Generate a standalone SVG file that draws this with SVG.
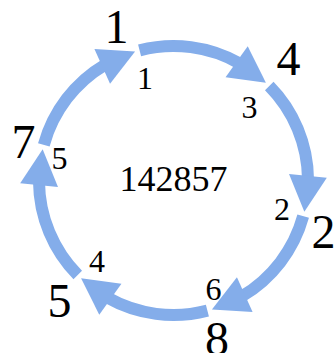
<svg xmlns="http://www.w3.org/2000/svg" width="334" height="353" viewBox="0 0 334 353">
<style>
.arc{fill:none;stroke:#84ADEA;stroke-width:12;stroke-linecap:butt}
.head{fill:#84ADEA;stroke:none}
text{font-family:"Liberation Serif","Times New Roman",serif;fill:#000;text-anchor:middle}
.big{font-size:48px}
.small{font-size:32px}
.center{font-size:36px}
</style>
<rect width="334" height="353" fill="#fff"/>
<defs>
<g id="seg">
<path class="arc" d="M 139.59 50.34 A 134.5 134.5 0 0 1 239.73 63.43"/>
<polygon class="head" points="225.57,77.18 247.73,46.32 265.91,82.77"/>
</g>
</defs>
<g id="connectors">
<use href="#seg" transform="rotate(0 173.5 180.5)"/>
<use href="#seg" transform="rotate(60 173.5 180.5)"/>
<use href="#seg" transform="rotate(120 173.5 180.5)"/>
<use href="#seg" transform="rotate(180 173.5 180.5)"/>
<use href="#seg" transform="rotate(240 173.5 180.5)"/>
<use href="#seg" transform="rotate(300 173.5 180.5)"/>
</g>
<g id="node-1"><text class="big" x="116.5" y="43">1</text><text class="small" x="145" y="89">1</text></g>
<g id="node-4"><text class="big" x="288.5" y="75">4</text><text class="small" x="249.5" y="118">3</text></g>
<g id="node-2"><text class="big" x="323.5" y="248">2</text><text class="small" x="282" y="219.5">2</text></g>
<g id="node-8"><text class="big" x="217" y="355">8</text><text class="small" x="213.5" y="299.5">6</text></g>
<g id="node-5"><text class="big" x="59.5" y="317">5</text><text class="small" x="97" y="271.5">4</text></g>
<g id="node-7"><text class="big" x="23.5" y="158">7</text><text class="small" x="59.5" y="169">5</text></g>
<g id="center"><text class="center" x="173.5" y="191">142857</text></g>
</svg>
